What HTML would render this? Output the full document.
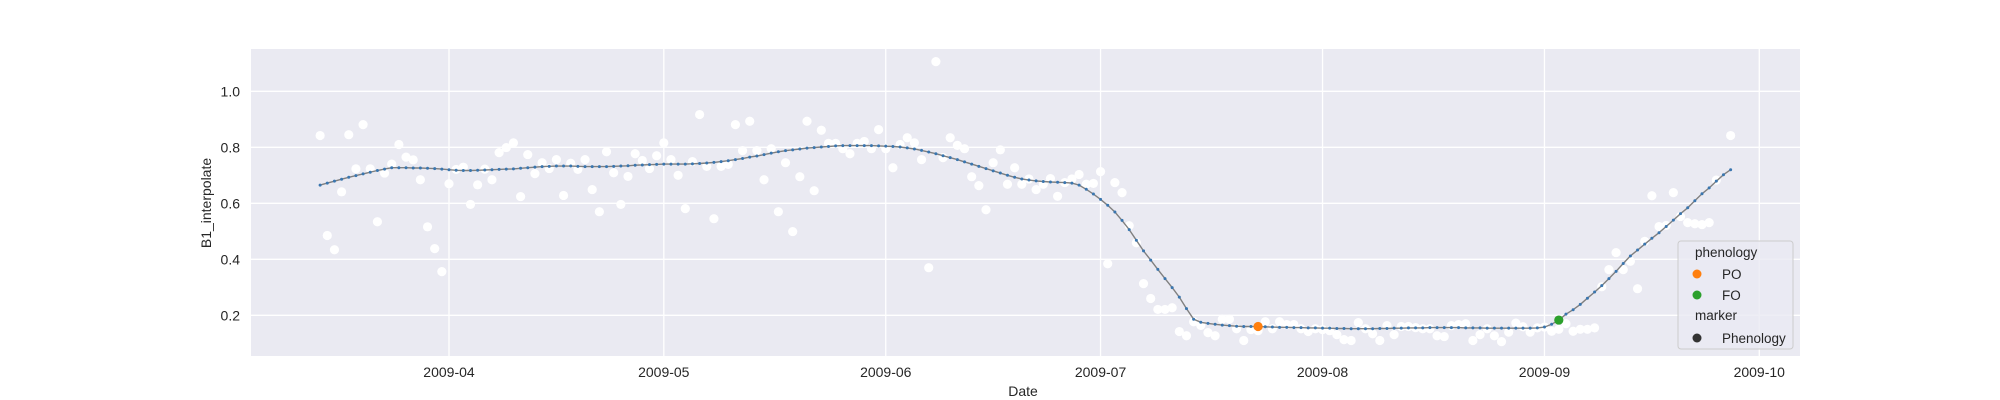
<!DOCTYPE html>
<html><head><meta charset="utf-8"><style>
html,body{margin:0;padding:0;background:#fff;}
svg{display:block;font-family:"Liberation Sans",Arial,sans-serif;}
</style></head><body>
<svg id="chart" width="2000" height="400" viewBox="0 0 2000 400" xmlns="http://www.w3.org/2000/svg">
<rect x="251" y="49" width="1549" height="307" fill="#eaeaf2"/>
<g id="grid"></g>
<g id="ticks"></g>
<g id="scatter"></g>
<g id="line"></g>
<g id="pheno"></g>
<text x="1023" y="396" font-size="14" text-anchor="middle" fill="#262626">Date</text>
<text transform="translate(211,203) rotate(-90)" font-size="14" text-anchor="middle" fill="#262626">B1_interpolate</text>
<g>
<rect x="1678" y="241" width="115" height="108" rx="3" fill="#eaeaf2" fill-opacity="0.8" stroke="#cccccc"/>
<text x="1695" y="257" font-size="13.5" fill="#262626">phenology</text>
<circle cx="1697" cy="274" r="4.5" fill="#ff7f0e"/>
<text x="1722" y="279" font-size="13.5" fill="#262626">PO</text>
<circle cx="1697" cy="295" r="4.5" fill="#2ca02c"/>
<text x="1722" y="300" font-size="13.5" fill="#262626">FO</text>
<text x="1695" y="320" font-size="13.5" fill="#262626">marker</text>
<circle cx="1697" cy="338" r="4.5" fill="#333333"/>
<text x="1722" y="343" font-size="13.5" fill="#262626">Phenology</text>
</g>
</svg>
<script>
// day offsets relative to 2009-04-01
const monthLabels = ["2009-04","2009-05","2009-06","2009-07","2009-08","2009-09","2009-10"];
const monthDays = [0,30,61,91,122,153,183];
const yTicks = [0.2,0.4,0.6,0.8,1.0];
const lineStartDay = -18;
const lineVals = [
0.665,0.672,0.679,0.686,0.693,0.699,0.705,0.711,0.717,0.722,0.727,
0.727,0.727,0.726,0.726,0.725,0.724,0.722,0.720,
0.718,0.717,0.717,0.718,0.719,0.720,0.721,0.722,0.723,0.725,
0.727,0.729,0.731,0.732,0.733,0.733,0.733,0.732,0.731,0.731,
0.731,0.731,0.732,0.733,0.734,0.736,0.737,0.738,0.739,0.740,
0.740,0.740,0.740,0.741,0.742,0.744,0.746,0.749,0.752,0.756,
0.760,0.765,0.769,0.774,0.779,0.784,0.788,0.791,0.794,0.797,
0.799,0.801,0.803,0.805,0.806,0.806,0.806,0.806,0.806,0.805,
0.804,0.803,0.801,0.798,0.794,0.789,0.783,0.777,0.770,0.763,
0.756,0.748,0.740,0.732,0.724,0.716,0.708,0.700,0.693,0.687,
0.683,0.680,0.678,0.676,0.675,0.674,0.672,0.665,0.650,0.633,
0.614,0.593,0.569,0.539,0.506,0.468,0.430,0.397,0.364,0.331,
0.299,0.265,0.224,0.186,0.175,0.171,0.168,0.165,0.163,0.161,
0.160,0.160,0.160,0.159,0.158,0.157,0.157,0.156,0.156,0.155,
0.155,0.154,0.154,0.153,0.153,0.152,0.152,0.152,0.152,0.153,
0.153,0.154,0.154,0.155,0.155,0.155,0.156,0.156,0.156,0.156,
0.156,0.155,0.155,0.155,0.154,0.154,0.154,0.154,0.154,0.154,
0.154,0.155,0.158,0.168,0.183,0.204,0.220,0.239,0.261,0.283,
0.306,0.331,0.357,0.385,0.412,0.433,0.454,0.475,0.495,0.517,
0.540,0.563,0.584,0.609,0.634,0.655,0.679,0.702,0.720];
const scatterStartDay = -18;
const scatterVals = [
0.842,0.485,0.434,0.641,0.845,0.723,0.881,0.723,0.534,0.708,
0.740,0.810,0.765,0.755,0.684,0.516,0.438,0.356,0.670,0.721,
0.729,0.596,0.666,0.722,0.684,0.781,0.799,0.816,0.624,0.774,
0.706,0.745,0.724,0.756,0.628,0.743,0.721,0.756,0.649,0.570,
0.784,0.709,0.596,0.696,0.777,0.753,0.724,0.770,0.816,0.756,
0.700,0.581,0.749,0.917,0.732,0.545,0.732,0.739,0.881,0.788,
0.893,0.788,0.684,0.795,0.570,0.745,0.499,0.695,0.893,0.645,
0.861,0.814,0.814,0.795,0.777,0.814,0.821,0.795,0.863,0.795,
0.727,0.810,0.834,0.816,0.756,0.370,1.106,0.763,0.834,0.807,
0.795,0.695,0.663,0.577,0.745,0.791,0.668,0.727,0.668,0.687,
0.649,0.668,0.688,0.625,0.674,0.687,0.703,0.668,0.671,0.713,
0.384,0.674,0.638,0.520,0.459,0.313,0.260,0.221,0.221,0.227,
0.142,0.127,0.177,0.164,0.138,0.127,0.186,0.186,0.152,0.110,
0.149,0.145,0.177,0.152,0.177,0.167,0.167,0.152,0.142,0.152,
0.149,0.145,0.131,0.113,0.110,0.174,0.152,0.134,0.110,0.163,
0.131,0.160,0.160,0.156,0.152,0.152,0.127,0.124,0.163,0.167,
0.170,0.110,0.131,0.152,0.127,0.106,0.140,0.172,0.159,0.140,
0.155,0.158,0.143,0.150,0.170,0.143,0.150,0.150,0.155,0.302,
0.363,0.424,0.363,0.393,0.295,0.464,0.627,0.517,0.521,0.638,
0.553,0.531,0.527,0.524,0.531,0.683,null,0.842];
const phenoLabels = ["PO","FO"];
const phenoDays = [113,155];
const phenoVals = [0.160,0.183];
const phenoColors = ["#ff7f0e","#2ca02c"];

const NS = "http://www.w3.org/2000/svg";
const xS = d => 449 + d * 7.16;
const yS = v => 315.3 - (v - 0.2) * 280;
function mk(tag, attrs, parent){const e=document.createElementNS(NS,tag);for(const k in attrs)e.setAttribute(k,attrs[k]);parent.appendChild(e);return e;}
const grid=document.getElementById('grid'), ticks=document.getElementById('ticks');
yTicks.forEach(t=>{
  const l=mk('line',{x1:251,x2:1800,y1:yS(t),y2:yS(t),stroke:'#fff','stroke-width':1.3},grid);
  
  
  const tx=mk('text',{x:240,y:yS(t)+5,'font-size':14,'text-anchor':'end',fill:'#262626'},ticks);
  tx.textContent=t.toFixed(1);
  
  
});
monthDays.forEach((d,i)=>{
  const l=mk('line',{x1:xS(d),x2:xS(d),y1:49,y2:356,stroke:'#fff','stroke-width':1.3},grid);
  
  
  const tx=mk('text',{x:xS(d),y:377,'font-size':14,'text-anchor':'middle',fill:'#262626'},ticks);
  tx.textContent=monthLabels[i];
  
  
});
const sc=document.getElementById('scatter');
scatterVals.forEach((v,i)=>{
  if(v===null)return;
  const c=mk('circle',{cx:xS(scatterStartDay+i),cy:yS(v),r:4.6,fill:'#fff'},sc);
  
  
});
const lg=document.getElementById('line');
const pts=lineVals.map((v,i)=>xS(lineStartDay+i).toFixed(1)+','+yS(v).toFixed(1)).join(' ');
const pl=mk('polyline',{points:pts,fill:'none',stroke:'#808080','stroke-width':1.4},lg);


lineVals.forEach((v,i)=>{
  const c=mk('circle',{cx:xS(lineStartDay+i),cy:yS(v),r:1.5,fill:'#3a76af'},lg);
  
  
});
const pg=document.getElementById('pheno');
phenoDays.forEach((d,i)=>{
  const c=mk('circle',{cx:xS(d),cy:yS(phenoVals[i]),r:4.6,fill:phenoColors[i]},pg);
  
  
});
</script>
</body></html>
